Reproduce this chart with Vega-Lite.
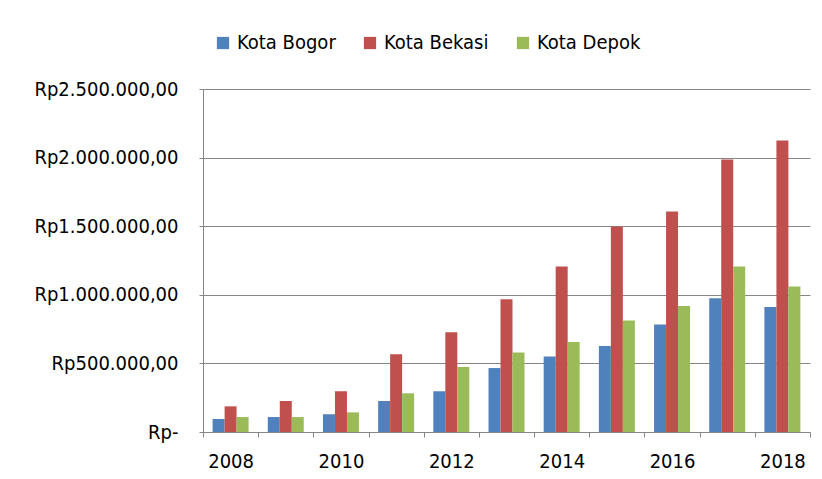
{
  "$schema": "https://vega.github.io/schema/vega-lite/v6.json",
  "width": 607,
  "height": 343,
  "autosize": {"type": "none"},
  "padding": {"left": 203, "top": 89, "right": 12, "bottom": 47},
  "background": "white",
  "config": {
    "locale": {"number": {"decimal": ",", "thousands": ".", "grouping": [3], "currency": ["Rp", ""]}},
    "view": {"stroke": null},
    "font": "'DejaVu Sans Condensed', 'DejaVu Sans', sans-serif"
  },
  "data": {
    "values": [
      {"year": 2008, "city": "Kota Bogor", "value": 95000},
      {"year": 2008, "city": "Kota Bekasi", "value": 187000},
      {"year": 2008, "city": "Kota Depok", "value": 109000},
      {"year": 2009, "city": "Kota Bogor", "value": 109000},
      {"year": 2009, "city": "Kota Bekasi", "value": 226000},
      {"year": 2009, "city": "Kota Depok", "value": 109000},
      {"year": 2010, "city": "Kota Bogor", "value": 129000},
      {"year": 2010, "city": "Kota Bekasi", "value": 297000},
      {"year": 2010, "city": "Kota Depok", "value": 143000},
      {"year": 2011, "city": "Kota Bogor", "value": 226000},
      {"year": 2011, "city": "Kota Bekasi", "value": 566000},
      {"year": 2011, "city": "Kota Depok", "value": 282000},
      {"year": 2012, "city": "Kota Bogor", "value": 297000},
      {"year": 2012, "city": "Kota Bekasi", "value": 727000},
      {"year": 2012, "city": "Kota Depok", "value": 474000},
      {"year": 2013, "city": "Kota Bogor", "value": 466000},
      {"year": 2013, "city": "Kota Bekasi", "value": 967000},
      {"year": 2013, "city": "Kota Depok", "value": 579000},
      {"year": 2014, "city": "Kota Bogor", "value": 550000},
      {"year": 2014, "city": "Kota Bekasi", "value": 1206000},
      {"year": 2014, "city": "Kota Depok", "value": 656000},
      {"year": 2015, "city": "Kota Bogor", "value": 627000},
      {"year": 2015, "city": "Kota Bekasi", "value": 1497000},
      {"year": 2015, "city": "Kota Depok", "value": 812000},
      {"year": 2016, "city": "Kota Bogor", "value": 783000},
      {"year": 2016, "city": "Kota Bekasi", "value": 1607000},
      {"year": 2016, "city": "Kota Depok", "value": 918000},
      {"year": 2017, "city": "Kota Bogor", "value": 975000},
      {"year": 2017, "city": "Kota Bekasi", "value": 1986000},
      {"year": 2017, "city": "Kota Depok", "value": 1206000},
      {"year": 2018, "city": "Kota Bogor", "value": 911000},
      {"year": 2018, "city": "Kota Bekasi", "value": 2124000},
      {"year": 2018, "city": "Kota Depok", "value": 1060000}
    ]
  },
  "mark": {"type": "bar"},
  "encoding": {
    "x": {
      "field": "year",
      "type": "ordinal",
      "scale": {"paddingInner": 0, "paddingOuter": 0},
      "axis": {
        "title": null,
        "labelAngle": 0,
        "labelExpr": "datum.value % 2 == 0 ? datum.label : ''",
        "tickBand": "extent",
        "tickSize": 5,
        "tickColor": "#868686",
        "domainColor": "#868686",
        "labelFontSize": 20,
        "labelColor": "#000000",
        "labelPadding": 14
      }
    },
    "xOffset": {
      "field": "city",
      "scale": {"domain": ["Kota Bogor", "Kota Bekasi", "Kota Depok"], "paddingInner": 0, "paddingOuter": 0.8}
    },
    "y": {
      "field": "value",
      "type": "quantitative",
      "scale": {"domain": [0, 2500000]},
      "axis": {
        "title": null,
        "values": [0, 500000, 1000000, 1500000, 2000000, 2500000],
        "labelExpr": "datum.value == 0 ? 'Rp-' : format(datum.value, '$,.2f')",
        "grid": true,
        "gridColor": "#868686",
        "domainColor": "#868686",
        "tickColor": "#868686",
        "tickSize": 4,
        "labelFontSize": 20,
        "labelColor": "#000000",
        "labelPadding": 21
      }
    },
    "color": {
      "field": "city",
      "type": "nominal",
      "scale": {"domain": ["Kota Bogor", "Kota Bekasi", "Kota Depok"], "range": ["#4F81BD", "#C0504D", "#9BBB59"]},
      "legend": {
        "title": null,
        "orient": "none",
        "legendX": 10,
        "legendY": -56,
        "direction": "horizontal",
        "symbolType": "square",
        "symbolSize": 150,
        "symbolStrokeWidth": 0,
        "labelFontSize": 20,
        "labelColor": "#000000",
        "columnPadding": 24,
        "labelOffset": 4
      }
    }
  }
}
